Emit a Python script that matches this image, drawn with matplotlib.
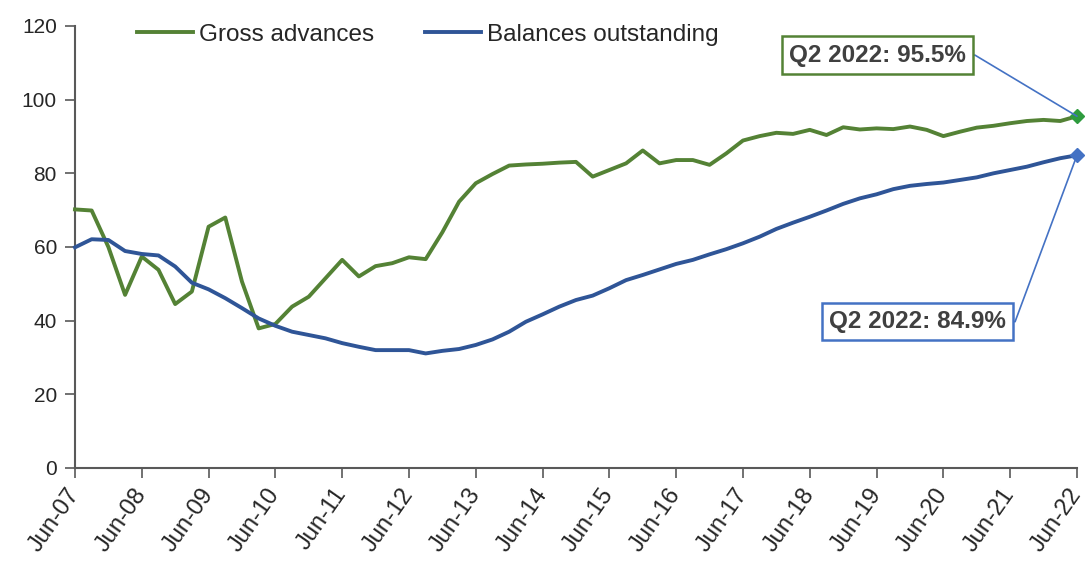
import matplotlib
matplotlib.use("Agg")
import matplotlib.pyplot as plt
import pandas as pd

# Quarterly observations, Q2 2007 to Q2 2022 (per cent)
quarters = pd.period_range("2007Q2", "2022Q2", freq="Q")

gross_advances = [
    70.2, 69.9, 60.0, 47.0, 57.4, 53.8, 44.5, 47.9, 65.5, 68.0,
    50.6, 37.9, 39.1, 43.8, 46.5, 51.5, 56.5, 52.0, 54.8, 55.6,
    57.2, 56.7, 64.0, 72.3, 77.3, 79.8, 82.1, 82.4, 82.6, 82.9,
    83.1, 79.1, 80.9, 82.7, 86.2, 82.7, 83.6, 83.6, 82.3, 85.4,
    88.9, 90.1, 91.0, 90.7, 91.8, 90.4, 92.5, 91.9, 92.2, 92.0,
    92.7, 91.8, 90.1, 91.3, 92.4, 92.9, 93.6, 94.2, 94.5, 94.2,
    95.5,
]
balances_outstanding = [
    59.9, 62.1, 61.9, 58.9, 58.1, 57.7, 54.7, 50.3, 48.5, 46.1,
    43.4, 40.6, 38.6, 37.0, 36.1, 35.2, 33.9, 32.9, 32.0, 32.0,
    32.0, 31.1, 31.8, 32.3, 33.4, 34.9, 37.0, 39.7, 41.7, 43.8,
    45.6, 46.8, 48.8, 51.0, 52.4, 53.9, 55.4, 56.5, 58.0, 59.4,
    61.0, 62.8, 64.9, 66.6, 68.2, 69.9, 71.7, 73.2, 74.3, 75.7,
    76.6, 77.1, 77.5, 78.2, 78.9, 80.0, 80.9, 81.8, 83.0, 84.1,
    84.9,
]
y_ticks = [0, 20, 40, 60, 80, 100, 120]

GREEN = "#548235"
BLUE = "#2F5597"
GREEN_MARK = "#2E9B3E"
BLUE_MARK = "#4472C4"
TEXT = "#262626"
AXIS = "#595959"

plt.rcParams["font.family"] = ["Liberation Sans", "DejaVu Sans"]

fig = plt.figure(figsize=(10.85, 5.61), dpi=100)
ax = fig.add_axes([0.0691, 0.1658, 0.9235, 0.7879])

x = list(range(len(quarters)))
ax.plot(x, gross_advances, color=GREEN, lw=2.8, label="Gross advances",
        solid_joinstyle="round", clip_on=False, zorder=3)
ax.plot(x, balances_outstanding, color=BLUE, lw=2.8, label="Balances outstanding",
        solid_joinstyle="round", clip_on=False, zorder=3)

# Latest-quarter markers
ax.plot(x[-1], gross_advances[-1], marker="D", ms=7.5, color=GREEN_MARK,
        clip_on=False, zorder=4)
ax.plot(x[-1], balances_outstanding[-1], marker="D", ms=7.5, color=BLUE_MARK,
        clip_on=False, zorder=4)

ax.set_xlim(0, len(quarters) - 1)
ax.set_ylim(0, 120)
ax.set_yticks(y_ticks)
ax.tick_params(axis="y", labelsize=15, colors=AXIS, labelcolor=TEXT,
               length=7, width=1.2, direction="out", pad=6)

tick_pos = [i for i, q in enumerate(quarters) if q.quarter == 2]
tick_lab = [q.strftime("Jun-%y") for q in quarters if q.quarter == 2]
ax.set_xticks(tick_pos)
ax.set_xticklabels(tick_lab, rotation=55, ha="right", rotation_mode="anchor",
                   va="center", fontsize=17, color=TEXT)
ax.tick_params(axis="x", colors=AXIS, labelcolor=TEXT, length=7, width=1.2,
               direction="out", pad=9)

for side in ("top", "right"):
    ax.spines[side].set_visible(False)
for side in ("left", "bottom"):
    ax.spines[side].set_color(AXIS)
    ax.spines[side].set_linewidth(1.5)

leg = ax.legend(loc="upper left", bbox_to_anchor=(0.04, 1.055), ncol=2,
                frameon=False, fontsize=17.5, handlelength=2.3, handletextpad=0.25,
                columnspacing=2.1, labelcolor=TEXT)

# Call-out boxes for the latest values
callout = dict(ha="center", va="center", fontsize=17.5, fontweight="bold",
               color="#404040", textcoords="axes fraction", xycoords="data",
               zorder=5)
link = dict(arrowstyle="-", color=BLUE_MARK, lw=1.2, relpos=(1, 0.5),
            shrinkA=0, shrinkB=0,
            connectionstyle="arc,angleA=0,armA=9,angleB=0,armB=0,rad=0")

ax.annotate(f"Q2 2022: {gross_advances[-1]:.1f}%",
            xy=(x[-1], gross_advances[-1]), xytext=(0.801, 0.934),
            bbox=dict(boxstyle="square,pad=0.3", fc="white", ec=GREEN, lw=1.8),
            arrowprops=link, **callout)
ax.annotate(f"Q2 2022: {balances_outstanding[-1]:.1f}%",
            xy=(x[-1], balances_outstanding[-1]), xytext=(0.841, 0.331),
            bbox=dict(boxstyle="square,pad=0.3", fc="white", ec=BLUE_MARK, lw=1.8),
            arrowprops=link, **callout)

fig.savefig("out.png", dpi=100)
